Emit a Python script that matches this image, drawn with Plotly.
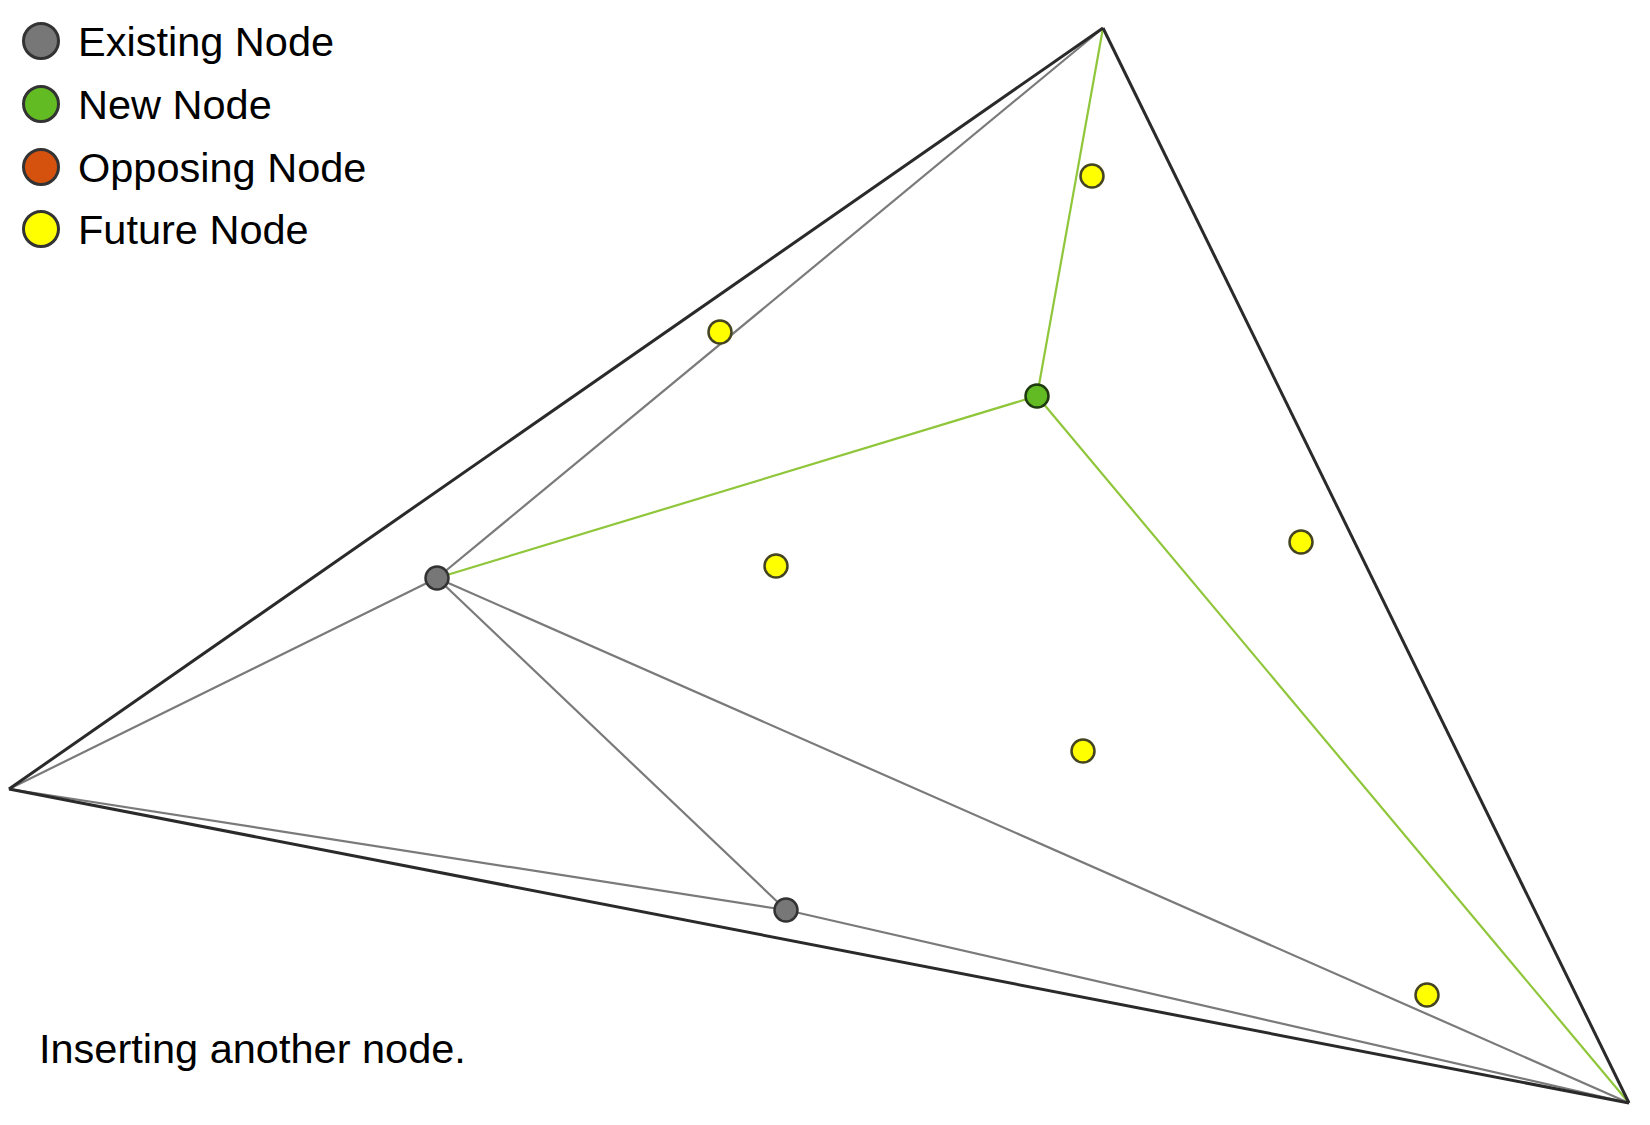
import plotly.graph_objects as go

# node positions in picture pixels (y grows downward)
node_names = ["T", "L", "B", "E1", "E2", "N"]
node_x = [1103, 9, 1629, 437, 786, 1037]
node_y = [28, 789, 1103, 578, 910, 396]

existing_nodes = ["E1", "E2"]
new_nodes = ["N"]

future_x = [1092, 720, 776, 1301, 1083, 1427]
future_y = [176, 332, 566, 542, 751, 995]

# edges by kind
hull_edges = [("T", "L"), ("L", "B"), ("T", "B")]
old_edges = [("T", "E1"), ("L", "E1"), ("E1", "E2"), ("E1", "B"), ("L", "E2"), ("E2", "B")]
new_edges = [("T", "N"), ("E1", "N"), ("N", "B")]

legend_labels = ["Existing Node", "New Node", "Opposing Node", "Future Node"]
legend_colors = ["#777777", "#62bb22", "#d4520e", "#ffff00"]
legend_y = [41, 104, 167, 229]

caption = "Inserting another node."

W, H = 1650, 1125
FONT = "Liberation Sans, Arial, sans-serif"

pos = {n: (x, y) for n, x, y in zip(node_names, node_x, node_y)}


def edge_xy(edges):
    xs, ys = [], []
    for a, b in edges:
        xs += [pos[a][0], pos[b][0], None]
        ys += [pos[a][1], pos[b][1], None]
    return xs, ys


fig = go.Figure()

# edges: thin ones first, hull on top
for edges, color, width in [
    (old_edges, "#7a7a7a", 2.2),
    (new_edges, "#8fc63a", 2.2),
    (hull_edges, "#2a2a2a", 3),
]:
    xs, ys = edge_xy(edges)
    fig.add_trace(go.Scatter(x=xs, y=ys, mode="lines",
                             line=dict(color=color, width=width),
                             hoverinfo="skip", showlegend=False))

# nodes
fig.add_trace(go.Scatter(
    x=[pos[n][0] for n in existing_nodes], y=[pos[n][1] for n in existing_nodes],
    mode="markers", showlegend=False,
    marker=dict(size=23, color=legend_colors[0], line=dict(color="#333333", width=2.5)),
))
fig.add_trace(go.Scatter(
    x=[pos[n][0] for n in new_nodes], y=[pos[n][1] for n in new_nodes],
    mode="markers", showlegend=False,
    marker=dict(size=23, color=legend_colors[1], line=dict(color="#1f3a10", width=2.5)),
))
fig.add_trace(go.Scatter(
    x=future_x, y=future_y, mode="markers", showlegend=False,
    marker=dict(size=23, color=legend_colors[3], line=dict(color="#444422", width=2.5)),
))

# hand-made legend at top left
fig.add_trace(go.Scatter(
    x=[41] * len(legend_labels), y=legend_y, mode="markers", showlegend=False,
    marker=dict(size=35, color=legend_colors, line=dict(color="#333333", width=3)),
    hoverinfo="skip",
))
for label, y in zip(legend_labels, legend_y):
    fig.add_annotation(x=76, y=y, text=label, showarrow=False,
                       xanchor="left", yanchor="middle",
                       font=dict(family=FONT, size=41.5, color="black"))

fig.add_annotation(x=37, y=1048, text=caption, showarrow=False,
                   xanchor="left", yanchor="middle",
                   font=dict(family=FONT, size=41.5, color="black"))

fig.update_layout(
    width=W, height=H,
    margin=dict(l=0, r=0, t=0, b=0),
    paper_bgcolor="white", plot_bgcolor="white",
    xaxis=dict(range=[0, W], visible=False, fixedrange=True),
    yaxis=dict(range=[H, 0], visible=False, fixedrange=True),
    showlegend=False,
)

# drop the page's default body margin so the figure sits at the top-left corner
fig.write_html("out.html", config={"displayModeBar": False},
               post_script="document.body.style.margin = '0';")
